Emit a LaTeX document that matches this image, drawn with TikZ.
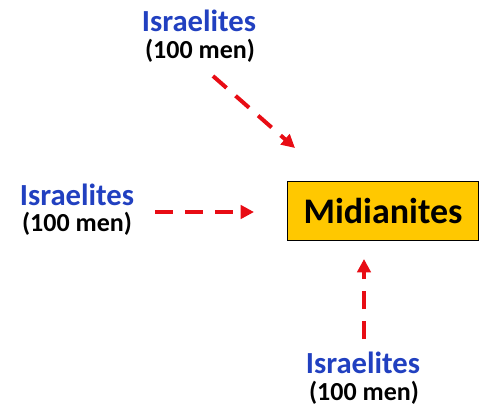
\documentclass[tikz,border=0pt]{standalone}
\usepackage{fontspec}
\setmainfont{Carlito}
\usetikzlibrary{arrows.meta,positioning}
\definecolor{israelblue}{RGB}{33,64,192}
\definecolor{attackred}{RGB}{232,12,20}
\definecolor{campyellow}{RGB}{255,200,0}

\begin{document}
\begin{tikzpicture}[x=0.75pt,y=-0.75pt,tribe/.style={anchor=base,text=israelblue,font=\fontsize{23}{23}\selectfont\bfseries,inner sep=0pt},men/.style={anchor=base,font=\fontsize{19.5}{19.5}\selectfont\bfseries,inner sep=0pt},camp/.style={draw=black,line width=1.2pt,fill=campyellow,minimum width=143pt,minimum height=44pt,font=\fontsize{27}{27}\selectfont\bfseries},raid/.style={-{Triangle[length=10pt,width=10pt]},attackred,line width=3pt,dash pattern=on 13.5pt off 9pt}]
\useasboundingbox (0,0) rectangle (481,408);
\node[camp] (mid) at (383,211) {Midianites};
\node[tribe] (isrt) at (199,31) {Israelites}; \node[men] (ment) at (200,58) {(100 men)};
\node[tribe] (isrl) at (77,205) {Israelites}; \node[men] (menl) at (77,231) {(100 men)};
\node[tribe] (isrb) at (363,373) {Israelites}; \node[men] (menb) at (364,400) {(100 men)};
\coordinate (tstart) at (213,76); \coordinate (tend) at (295,148);
\coordinate (lstart) at (155,212); \coordinate (lend) at (254,212);
\coordinate (bstart) at (364,339); \coordinate (bend) at (364,259);
\draw[raid] (tstart)--(tend); \draw[raid] (lstart)--(lend);
\draw[raid] (bstart)--(bend);
\end{tikzpicture}
\end{document}
